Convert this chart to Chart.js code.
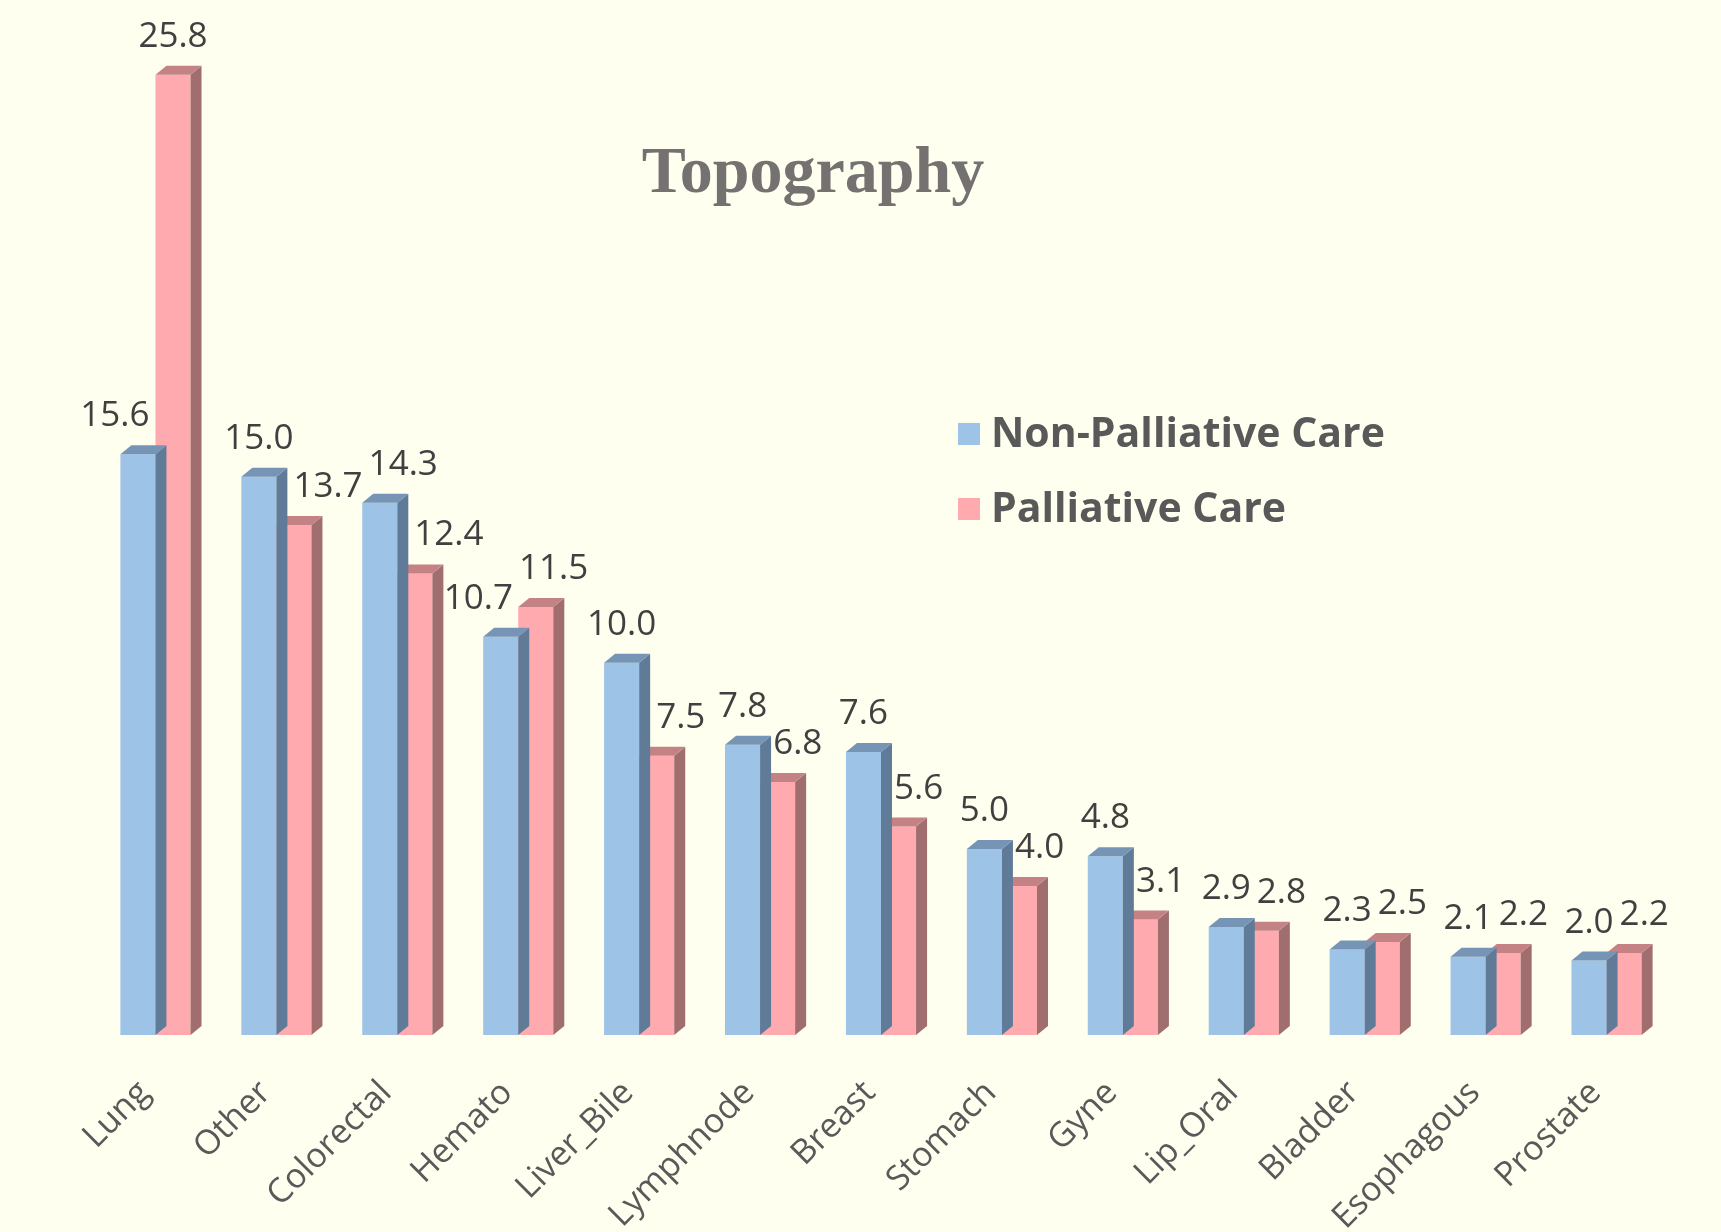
<!DOCTYPE html>
<html>
<head>
<meta charset="utf-8">
<title>Topography</title>
<script src="https://cdn.jsdelivr.net/npm/chart.js@4.4.1/dist/chart.umd.min.js"></script>
<style>
    html, body { margin: 0; padding: 0; background: #FEFFEF; }
    #wrap { width: 1721px; height: 1232px; position: relative; }
</style>
</head>
<body>
<div id="wrap"><canvas id="graph0"></canvas></div>
<script>
var CHART0 = null;

// データ
let categories      = ['Lung', 'Other', 'Colorectal', 'Hemato', 'Liver_Bile', 'Lymphnode', 'Breast', 'Stomach', 'Gyne', 'Lip_Oral', 'Bladder', 'Esophagous', 'Prostate'];
let non_palliative  = [15.6, 15.0, 14.3, 10.7, 10.0, 7.8, 7.6, 5.0, 4.8, 2.9, 2.3, 2.1, 2.0];
let palliative      = [25.8, 13.7, 12.4, 11.5, 7.5, 6.8, 5.6, 4.0, 3.1, 2.8, 2.5, 2.2, 2.2];
let series_names    = ['Non-Palliative Care', 'Palliative Care'];
let title_text      = 'Topography';

// 色 (前面 / 上面 / 側面)
let front_colors    = ['#9DC3E6', '#FFAAAE'];
let top_colors      = ['#7594B6', '#C48284'];
let side_colors     = ['#5F7B98', '#A06E6F'];

// 3Dの奥行き
const DX = 11;
const DY = 9;

const LABEL_FONT = '35px "Open Sans"';
const LABEL_GAP  = 6;

window.addEventListener("load", function(){
    draw_bar_graph();
});

//棒の上面と側面を描く
let bar3d = {
    id: 'bar3d',
    afterDatasetDraw: function(chart, args){
        let i   = args.index;
        let ctx = chart.ctx;
        ctx.save();
        args.meta.data.forEach(function(bar){
            let p = bar.getProps(['x', 'y', 'base', 'width'], true);
            let l = p.x - p.width / 2;
            let r = p.x + p.width / 2;
            ctx.fillStyle = side_colors[i];
            ctx.beginPath();
            ctx.moveTo(r, p.y);
            ctx.lineTo(r + DX, p.y - DY);
            ctx.lineTo(r + DX, p.base - DY);
            ctx.lineTo(r, p.base);
            ctx.closePath();
            ctx.fill();
            ctx.fillStyle = top_colors[i];
            ctx.beginPath();
            ctx.moveTo(l, p.y);
            ctx.lineTo(l + DX, p.y - DY);
            ctx.lineTo(r + DX, p.y - DY);
            ctx.lineTo(r, p.y);
            ctx.closePath();
            ctx.fill();
        });
        ctx.restore();
    }
};

//値ラベル(重なったら横にずらす)、タイトル、凡例
let overlay = {
    id: 'overlay',
    afterDraw: function(chart){
        let ctx = chart.ctx;
        ctx.save();

        ctx.font = LABEL_FONT;
        ctx.fillStyle = '#404040';
        ctx.textAlign = 'center';
        ctx.textBaseline = 'alphabetic';

        let labels = [];   // 置いたラベル
        for (let c = 0; c < categories.length; c++){
            // 同じカテゴリの棒は障害物
            let bars = [];
            for (let di = 0; di < chart.data.datasets.length; di++){
                let p = chart.getDatasetMeta(di).data[c].getProps(['x', 'y', 'base', 'width'], true);
                bars.push({l: p.x - p.width / 2, r: p.x + p.width / 2 + DX, t: p.y - DY, b: p.base});
            }
            for (let di = 0; di < chart.data.datasets.length; di++){
                let p    = chart.getDatasetMeta(di).data[c].getProps(['x', 'y'], true);
                let text = chart.data.datasets[di].data[c].toFixed(1);
                let half = ctx.measureText(text).width / 2;
                let base = p.y - 28;
                let t    = base - 30;
                let b    = base + 6;
                let boxes = bars.concat(labels);
                let hits = function(x){
                    for (let o of boxes){
                        if (x - half < o.r && x + half > o.l && t < o.b && b > o.t){ return true; }
                    }
                    return false;
                };
                let cands = [p.x];
                boxes.forEach(function(o){
                    cands.push(o.r + LABEL_GAP + half);
                    cands.push(o.l - LABEL_GAP - half);
                });
                cands.sort(function(a, z){ return Math.abs(a - p.x) - Math.abs(z - p.x); });
                let best = p.x;
                for (let x of cands){
                    if (!hits(x)){ best = x; break; }
                }
                labels.push({l: best - half, r: best + half, t: t, b: b});
                ctx.fillText(text, best, base);
            }
        }

        // タイトル
        ctx.font = 'bold 66px "Liberation Serif"';
        ctx.fillStyle = '#767171';
        ctx.fillText(title_text, 813, 192);

        // 凡例
        ctx.font = 'bold 41px "Open Sans"';
        ctx.textAlign = 'left';
        ctx.textBaseline = 'middle';
        chart.data.datasets.forEach(function(ds, di){
            let y = 434 + di * 75;
            ctx.fillStyle = ds.backgroundColor;
            ctx.fillRect(958, y - 11, 22, 22);
            ctx.fillStyle = '#595959';
            ctx.fillText(ds.label, 991, y + 1);
        });
        ctx.restore();
    }
};

function draw_bar_graph(){
    let ctx0 = document.getElementById('graph0');

    if (CHART0) {
        CHART0.destroy();
    }

    CHART0 = new Chart(ctx0, {
        type: 'bar',
        data: {
            labels: categories,
            datasets: [
                {
                    label: series_names[0],
                    data: non_palliative,
                    backgroundColor: front_colors[0],
                    borderWidth: 0,
                },
                {
                    label: series_names[1],
                    data: palliative,
                    backgroundColor: front_colors[1],
                    borderWidth: 0,
                },
            ],
        },
        options: {
            responsive: true,
            maintainAspectRatio: false,
            animation: false,
            layout: { padding: { left: 95, right: 54, top: 30, bottom: 0 } },
            datasets: { bar: { categoryPercentage: 0.58, barPercentage: 1.0 } },
            plugins: {
                legend: { display: false },
                title: { display: false },
                tooltip: { enabled: false },
            },
            scales: {
                x: {
                    grid: { display: false, drawTicks: false },
                    border: { display: false },
                    ticks: {
                        autoSkip: false,
                        minRotation: 45,
                        maxRotation: 45,
                        padding: 38,
                        labelOffset: -11,
                        color: '#595959',
                        font: { family: '"Open Sans"', size: 34 },
                    },
                    afterFit: function(scale){ scale.height = 197; },
                },
                y: {
                    display: false,
                    min: 0,
                    max: 27,
                },
            },
        },
        plugins: [bar3d, overlay],
    });
}
</script>
</body>
</html>
